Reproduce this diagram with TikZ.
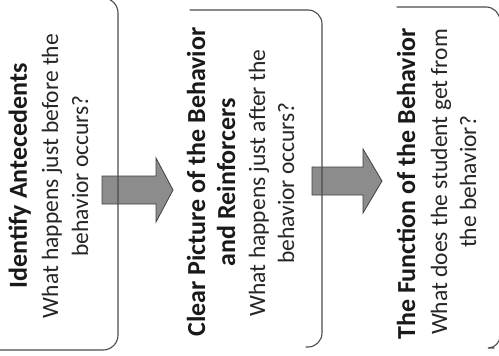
\documentclass[tikz,border=0pt]{standalone}
\usepackage{fontspec}
\setmainfont{Carlito}
\begin{document}
\begin{tikzpicture}[x=1pt,y=-1pt,
  boxline/.style={draw=black!70, line width=1.1pt, line cap=round},
  blockarrow/.style={fill=black!45, draw=black!75, line width=0.8pt, line join=miter},
  ttl/.style={rotate=90, anchor=base, inner sep=0pt, font=\fontsize{26}{30}\selectfont\bfseries, text=black!90},
  sub/.style={rotate=90, anchor=base, inner sep=0pt, font=\fontsize{23.5}{28}\selectfont, text=black!85}]
\useasboundingbox (0,0) rectangle (499,356);
\fill[white] (0,0) rectangle (499,356);

% block arrows
\draw[blockarrow] (102,176) -- (156,176) -- (156,158) -- (173,190) -- (156,222) -- (156,204) -- (102,204) -- cycle;
\draw[blockarrow] (312,167) -- (363,167) -- (363,149) -- (382,181) -- (363,213) -- (363,195) -- (312,195) -- cycle;

% box outlines (visible parts)
\draw[boxline, rounded corners=15pt] (-10,-2) -- (118,-2) -- (118,350) -- (-10,350);
\draw[boxline, rounded corners=14pt] (190,10) -- (322,10) -- (322,347) -- (306,347);
\draw[boxline, rounded corners=14pt] (397,7) -- (500,7) -- (500,60);
\draw[boxline, rounded corners=12pt] (500,320) -- (500,348) -- (494,348);

% box 1 text
\node[ttl] (t1a) at (27,176) {Identify Antecedents};
\node[sub] (t1b) at (58,176) {What happens just before the};
\node[sub] (t1c) at (88,176) {behavior occurs?};

% box 2 text
\node[ttl] (t2a) at (205,182) {Clear Picture of the Behavior};
\node[ttl] (t2b) at (235,182) {and Reinforcers};
\node[sub] (t2c) at (265,183) {What happens just after the};
\node[sub] (t2d) at (294,183) {behavior occurs?};

% box 3 text
\node[ttl] (t3a) at (415,184) {The Function of the Behavior};
\node[sub] (t3b) at (447,182) {What does the student get from};
\node[sub] (t3c) at (476,182) {the behavior?};
\end{tikzpicture}
\end{document}
